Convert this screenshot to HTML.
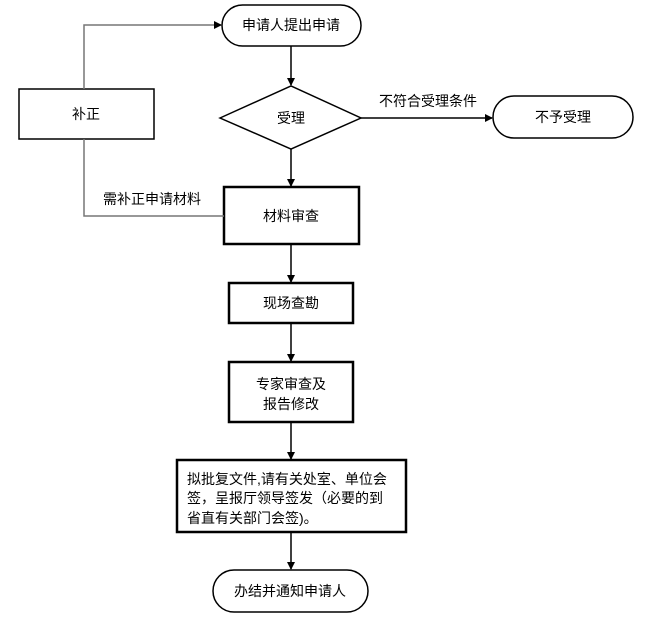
<!DOCTYPE html>
<html><head><meta charset="utf-8"><style>
body{margin:0;background:#fff}
svg text{font-family:"Liberation Sans","Noto Sans CJK SC",sans-serif;font-size:14px;fill:#000}
</style></head><body>
<svg width="645" height="617" xmlns="http://www.w3.org/2000/svg">
<defs><marker id="a" markerWidth="8" markerHeight="8" refX="7" refY="4" orient="auto" markerUnits="userSpaceOnUse"><path d="M0,0 L8,4 L0,8 z" fill="#000"/></marker></defs>
<g fill="none" stroke="#000" stroke-width="1.5">
<rect x="222" y="5" width="139" height="41" rx="20.5"/>
<polygon points="220,118 291,86 361,118 291,149"/>
<rect x="19" y="89" width="135" height="50"/>
<rect x="493" y="96" width="140" height="42" rx="21"/>
<rect x="224" y="187" width="135" height="57" stroke-width="2.5"/>
<rect x="229" y="283" width="124" height="40" stroke-width="2.5"/>
<rect x="229" y="362" width="124" height="60" stroke-width="2.5"/>
<rect x="177" y="460" width="229" height="72" stroke-width="2.5"/>
<rect x="213" y="570" width="155" height="42" rx="21"/>
</g>
<g stroke="#000" stroke-width="1.5" fill="none">
<line x1="291" y1="46" x2="291" y2="85" marker-end="url(#a)"/>
<line x1="361" y1="118" x2="492" y2="118" marker-end="url(#a)"/>
<line x1="291" y1="149" x2="291" y2="186" marker-end="url(#a)"/>
<line x1="291" y1="244" x2="291" y2="282" marker-end="url(#a)"/>
<line x1="291" y1="323" x2="291" y2="361" marker-end="url(#a)"/>
<line x1="291" y1="422" x2="291" y2="459" marker-end="url(#a)"/>
<line x1="291" y1="532" x2="291" y2="569" marker-end="url(#a)"/>
</g>
<g stroke="#777" stroke-width="1.5" fill="none">
<polyline points="224,216 84,216 84,139"/>
<polyline points="84,89 84,25 221,25" marker-end="url(#a)"/>
</g>
<text x="291" y="30" text-anchor="middle">申请人提出申请</text>
<text x="291" y="123" text-anchor="middle">受理</text>
<text x="86" y="119" text-anchor="middle">补正</text>
<text x="563" y="122" text-anchor="middle">不予受理</text>
<text x="428" y="106" text-anchor="middle">不符合受理条件</text>
<text x="152" y="204" text-anchor="middle">需补正申请材料</text>
<text x="291" y="221" text-anchor="middle">材料审查</text>
<text x="291" y="308" text-anchor="middle">现场查勘</text>
<text x="291" y="389" text-anchor="middle">专家审查及</text>
<text x="291" y="409" text-anchor="middle">报告修改</text>
<text x="187" y="484">拟批复文件,请有关处室、单位会</text>
<text x="187" y="503">签，呈报厅领导签发（必要的到</text>
<text x="187" y="523">省直有关部门会签)。</text>
<text x="290" y="596" text-anchor="middle">办结并通知申请人</text>
</svg>
</body></html>
